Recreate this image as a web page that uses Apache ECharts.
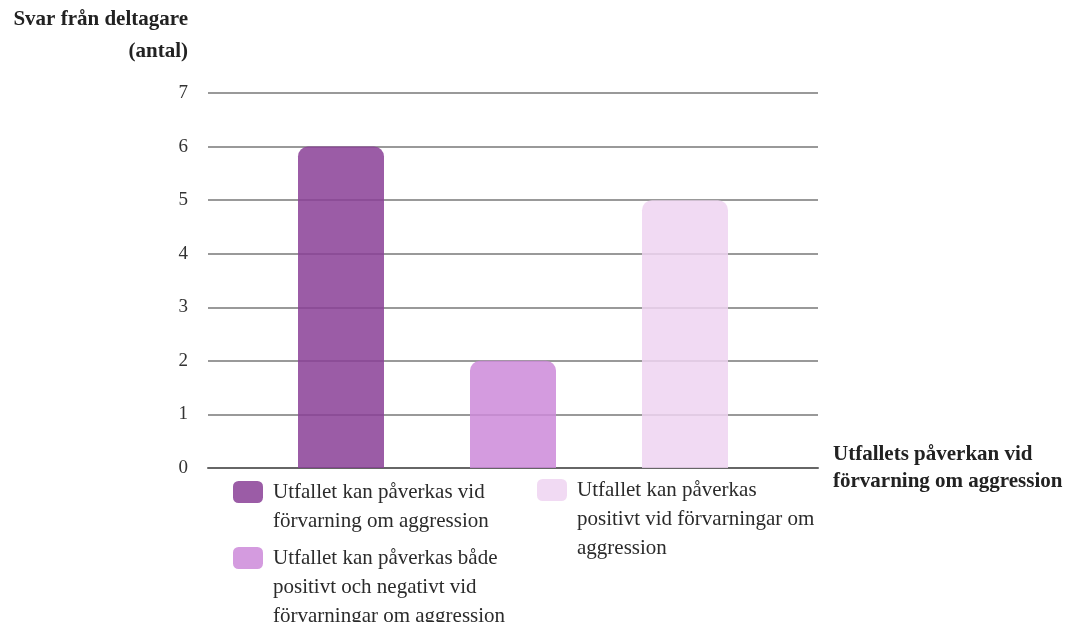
<!DOCTYPE html>
<html lang="sv">
<head>
    <meta charset="UTF-8">
    <title>Svar från deltagare</title>
    <style>
        html, body { margin: 0; padding: 0; background: #fff; }
    </style>
</head>
<body>
    <div id="chart" style="width:1073px;height:622px;"></div>
    <script src="https://cdn.jsdelivr.net/npm/echarts@6/dist/echarts.min.js"></script>
    <script type="text/javascript">
        var chart = echarts.init(document.getElementById('chart'));

        // data
        var seriesNames = [
            'Utfallet kan påverkas vid\nförvarning om aggression',
            'Utfallet kan påverkas både\npositivt och negativt vid\nförvarningar om aggression',
            'Utfallet kan påverkas\npositivt vid förvarningar om\naggression'
        ];
        var seriesValues = [6, 2, 5];
        var colors = ['#8a4096', '#cc8ad9', '#eed3f1'];
        var yTicks = [0, 1, 2, 3, 4, 5, 6, 7];

        var font = '"Liberation Serif", "DejaVu Serif", serif';
        var lh = 29;

        var series = seriesNames.map(function (name, i) {
            return {
                name: name,
                type: 'bar',
                data: [seriesValues[i]],
                barWidth: 86,
                barGap: '100%',
                itemStyle: {
                    color: colors[i],
                    opacity: 0.85,
                    borderRadius: [10, 10, 0, 0]
                }
            };
        });

        // one legend per item; blank lines in front keep the icon on the first text line
        function legendFor(i, left, iconCenter) {
            var n = seriesNames[i].split('\n').length;
            return {
                data: [seriesNames[i]],
                left: left,
                top: iconCenter - (2 * n - 1) * lh / 2,
                padding: 0,
                icon: 'roundRect',
                itemWidth: 30,
                itemHeight: 22,
                selectedMode: false,
                formatter: function (name) {
                    return new Array(n).join('\n') + name;
                },
                textStyle: {
                    fontFamily: font,
                    fontSize: 21,
                    color: '#2b2b2b',
                    lineHeight: lh,
                    padding: [0, 0, 0, 5]
                }
            };
        }

        var option = {
            animation: false,
            textStyle: { fontFamily: font },
            color: colors,
            grid: {
                left: 208,
                right: 255,
                top: 93,
                bottom: 154
            },
            legend: [
                legendFor(0, 233, 492),
                legendFor(1, 233, 558),
                legendFor(2, 537, 490)
            ],
            xAxis: {
                type: 'category',
                data: [''],
                name: 'Utfallets påverkan vid\nförvarning om aggression',
                nameLocation: 'end',
                nameGap: 15,
                nameTextStyle: {
                    fontFamily: font,
                    fontSize: 21,
                    fontWeight: 'bold',
                    color: '#222',
                    lineHeight: 27,
                    align: 'left',
                    padding: [0, 0, -2, 0]
                },
                axisLine: { lineStyle: { color: '#666', width: 2 } },
                axisTick: { show: false },
                axisLabel: { show: false }
            },
            yAxis: {
                type: 'value',
                min: yTicks[0],
                max: yTicks[yTicks.length - 1],
                interval: 1,
                name: 'Svar från deltagare\n(antal)',
                nameLocation: 'end',
                nameGap: 25,
                nameTextStyle: {
                    fontFamily: font,
                    fontSize: 21,
                    fontWeight: 'bold',
                    color: '#222',
                    lineHeight: 32,
                    align: 'right',
                    padding: [0, 20, 0, 0]
                },
                axisLine: { show: false },
                axisTick: { show: false },
                axisLabel: {
                    fontFamily: font,
                    fontSize: 19,
                    color: '#333',
                    margin: 20
                },
                splitLine: {
                    lineStyle: { color: '#999', width: 2 }
                }
            },
            series: series
        };
        chart.setOption(option);
    </script>
</body>
</html>
